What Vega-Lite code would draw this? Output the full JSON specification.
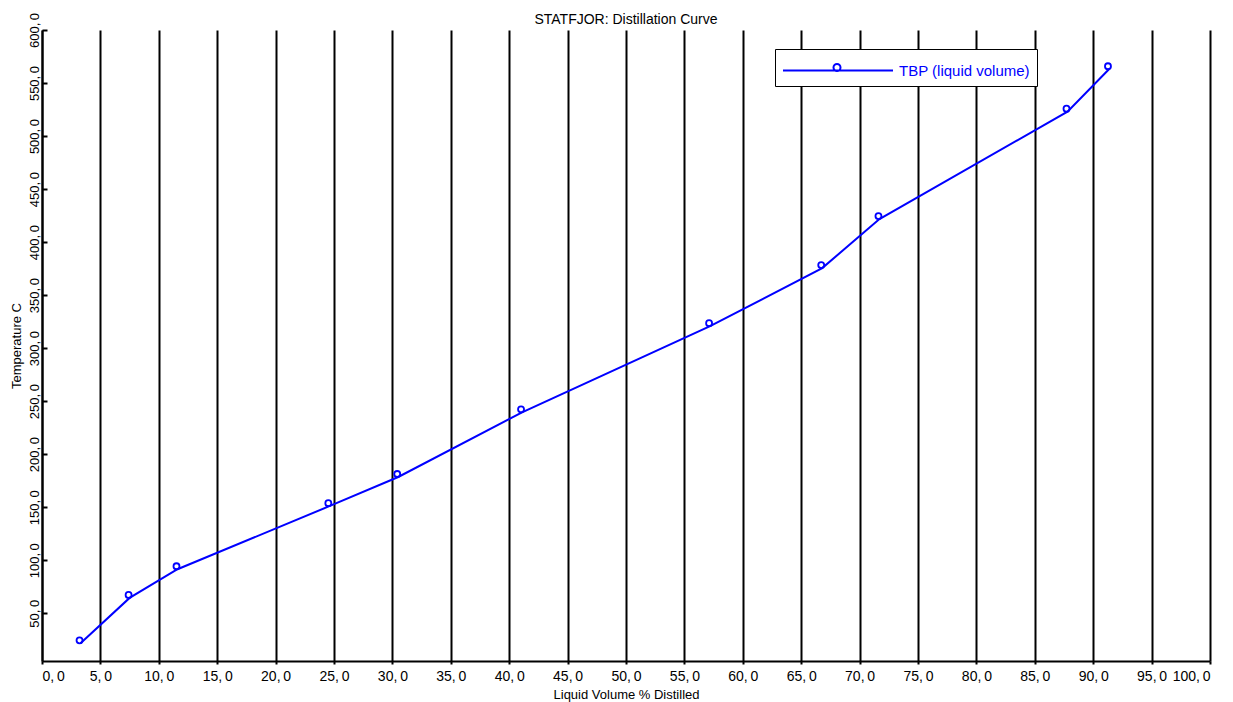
{
  "$schema": "https://vega.github.io/schema/vega-lite/v6.json",
  "width": 1168,
  "height": 631,
  "autosize": {"type": "none"},
  "padding": {"left": 42, "top": 30, "right": 23, "bottom": 41},
  "background": "white",
  "config": {
    "font": "Liberation Sans",
    "view": {"stroke": null},
    "title": {"fontSize": 14, "fontWeight": "normal", "color": "black", "font": "Liberation Sans"}
  },
  "title": {"text": "STATFJOR: Distillation Curve", "offset": -15, "anchor": "middle"},
  "data": {
    "values": [
      {"pct": 3.3, "temp": 21.7, "series": "TBP (liquid volume)"},
      {"pct": 7.5, "temp": 64.5, "series": "TBP (liquid volume)"},
      {"pct": 11.6, "temp": 91.5, "series": "TBP (liquid volume)"},
      {"pct": 24.6, "temp": 151.0, "series": "TBP (liquid volume)"},
      {"pct": 30.5, "temp": 178.5, "series": "TBP (liquid volume)"},
      {"pct": 41.1, "temp": 239.5, "series": "TBP (liquid volume)"},
      {"pct": 57.2, "temp": 320.7, "series": "TBP (liquid volume)"},
      {"pct": 66.8, "temp": 375.5, "series": "TBP (liquid volume)"},
      {"pct": 71.7, "temp": 421.7, "series": "TBP (liquid volume)"},
      {"pct": 87.8, "temp": 523.0, "series": "TBP (liquid volume)"},
      {"pct": 91.35, "temp": 563.0, "series": "TBP (liquid volume)"}
    ]
  },
  "encoding": {
    "x": {
      "field": "pct", "type": "quantitative",
      "scale": {"domain": [0, 100], "nice": false, "zero": false},
      "axis": {
        "title": "Liquid Volume % Distilled",
        "values": [0,5,10,15,20,25,30,35,40,45,50,55,60,65,70,75,80,85,90,95,100],
        "labelExpr": "replace(format(datum.value, '.1f'), '.', ',\u2009')",
        "grid": true, "gridColor": "black", "gridWidth": 2, "gridOpacity": 1,
        "domainColor": "black", "domainWidth": 2,
        "tickColor": "black", "tickSize": 3, "tickWidth": 2,
        "labelFontSize": 14, "labelColor": "black", "labelPadding": 5, "labelFont": "Liberation Sans",
        "titleFontSize": 13, "titleFontWeight": "normal", "titleColor": "black", "titlePadding": 5, "titleFont": "Liberation Sans"
      }
    },
    "y": {
      "field": "temp", "type": "quantitative",
      "scale": {"domain": [5, 600], "nice": false, "zero": false},
      "axis": {
        "title": "Temperature C",
        "values": [50,100,150,200,250,300,350,400,450,500,550,600],
        "labelExpr": "replace(format(datum.value, '.1f'), '.', ',\u2009')",
        "grid": false,
        "domainColor": "black", "domainWidth": 2,
        "tickColor": "black", "tickSize": -5, "tickWidth": 2,
        "labelAngle": -90, "labelAlign": "center", "labelBaseline": "bottom",
        "labelFontSize": 13, "labelColor": "black", "labelPadding": 6, "labelFont": "Liberation Sans",
        "titleFontSize": 13, "titleFontWeight": "normal", "titleColor": "black", "titlePadding": 5, "titleFont": "Liberation Sans"
      }
    },
    "color": {
      "field": "series", "type": "nominal",
      "scale": {"range": ["#0000ff"]},
      "legend": {
        "title": null,
        "orient": "none", "legendX": 733, "legendY": 19,
        "strokeColor": "black", "fillColor": "white",
        "padding": 7,
        "symbolType": "M-1,0H7.15M2.74,-0.22A0.26,0.26 0 1,0 3.26,-0.22A0.26,0.26 0 1,0 2.74,-0.22",
        "symbolSize": 729, "symbolStrokeWidth": 2, "symbolFillColor": "transparent",
        "labelColor": "#0000ff", "labelFontSize": 15, "labelFont": "Liberation Sans", "labelOffset": 88
      }
    }
  },
  "layer": [
    {"mark": {"type": "line", "strokeWidth": 2, "interpolate": "linear"}},
    {"mark": {"type": "point", "shape": "circle", "filled": false, "size": 36, "strokeWidth": 1.8, "xOffset": -1, "yOffset": -3, "opacity": 1}}
  ]
}
